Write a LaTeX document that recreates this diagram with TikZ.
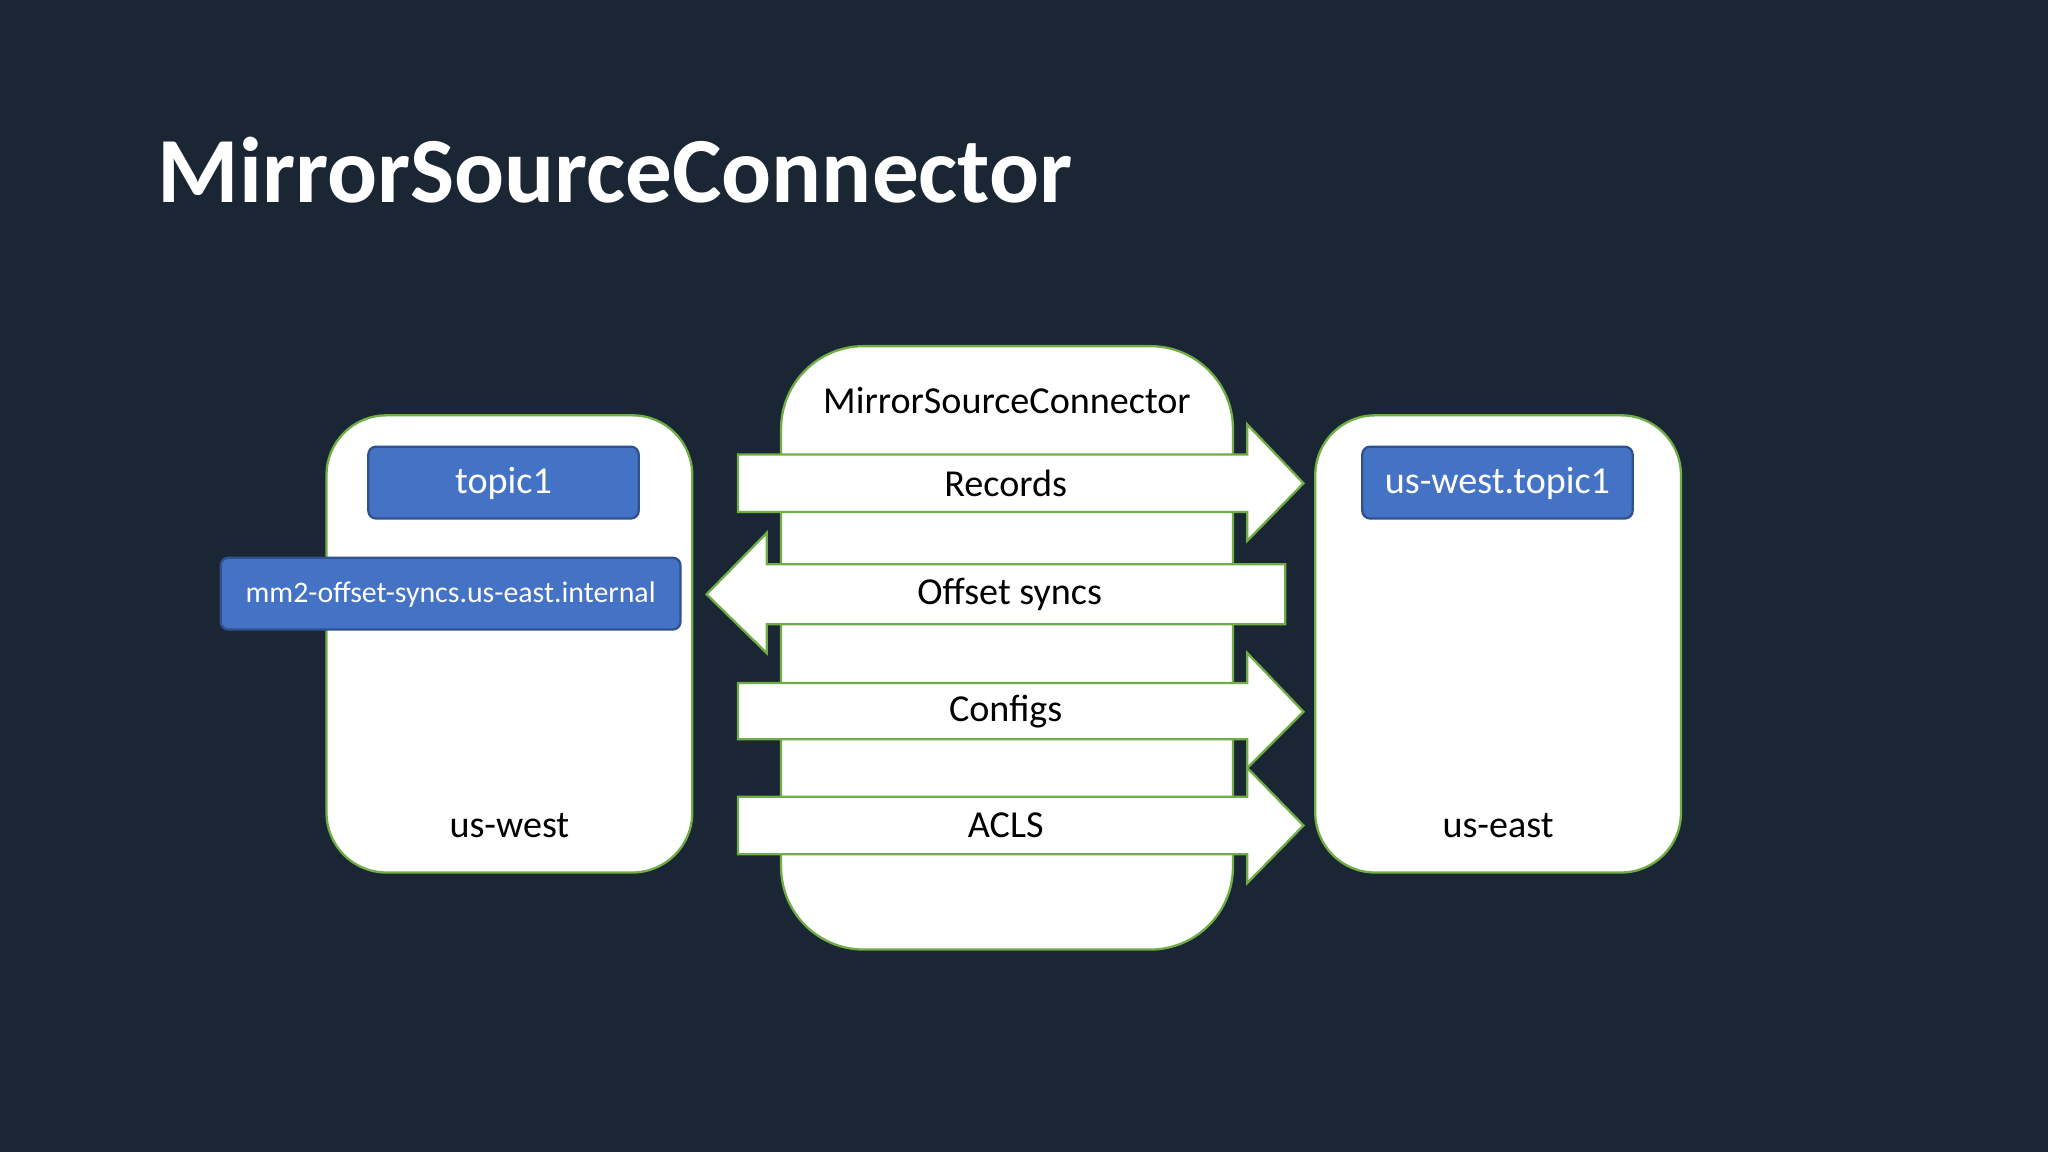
\documentclass[tikz,border=0pt]{standalone}
\usepackage{fontspec}
\setmainfont{Carlito}
\definecolor{bg}{HTML}{1A2633}
\definecolor{grn}{HTML}{70AD47}
\definecolor{blu}{HTML}{4472C4}
\definecolor{bld}{HTML}{2F528F}
\begin{document}
\begin{tikzpicture}[x=0.01cm,y=-0.01cm,
  panel/.style={draw=grn,line width=0.5pt,fill=white},
  topic/.style={draw=bld,fill=blu,rounded corners=1.7pt,line width=0.5pt},
  lab/.style={font=\fontsize{8.3pt}{9pt}\selectfont,text=black},
  tlab/.style={font=\fontsize{8.3pt}{9pt}\selectfont,text=white}]
\fill[bg] (0,0) rectangle (1568,882);
\useasboundingbox (0,0) rectangle (1568,882);
\node[anchor=west,text=white,font=\fontsize{20.3pt}{24pt}\selectfont\bfseries,inner sep=0] (title) at (120,130) {MirrorSourceConnector};
% panels
\draw[panel,rounded corners=13pt] (250,318) rectangle (530,668);
\draw[panel,rounded corners=18pt] (598,265) rectangle (944,727);
\draw[panel,rounded corners=13pt] (1007,318) rectangle (1287,668);
\node[lab] (conn) at (771,307) {MirrorSourceConnector};
\node[lab] (west) at (390,632) {us-west};
\node[lab] (east) at (1147,632) {us-east};
% topics
\draw[topic] (282,342) rectangle (489,397);
\node[tlab] (t1) at (385.5,370) {topic1};
\draw[topic] (169,427) rectangle (521,482);
\node[text=white,font=\fontsize{6.5pt}{7pt}\selectfont] (mm2) at (345,455) {mm2-offset-syncs.us-east.internal};
\draw[topic] (1043,342) rectangle (1250,397);
\node[tlab] (t2) at (1146.5,370) {us-west.topic1};
% arrows
\draw[panel,line join=miter] (565,348) -- (955,348) -- (955,325) -- (998,370) -- (955,414) -- (955,392) -- (565,392) -- cycle;
\node[lab] (rec) at (770,370) {Records};
\draw[panel,line join=miter] (984,432) -- (587,432) -- (587,408) -- (541,455) -- (587,500) -- (587,478) -- (984,478) -- cycle;
\node[lab] (off) at (773,455) {Offset syncs};
\draw[panel,line join=miter] (565,523) -- (955,523) -- (955,500) -- (998,545) -- (955,588) -- (955,566) -- (565,566) -- cycle;
\node[lab] (cfg) at (770,545) {Configs};
\draw[panel,line join=miter] (565,610) -- (955,610) -- (955,588) -- (998,632) -- (955,676) -- (955,654) -- (565,654) -- cycle;
\node[lab] (acl) at (770,632) {ACLS};
\end{tikzpicture}
\end{document}
